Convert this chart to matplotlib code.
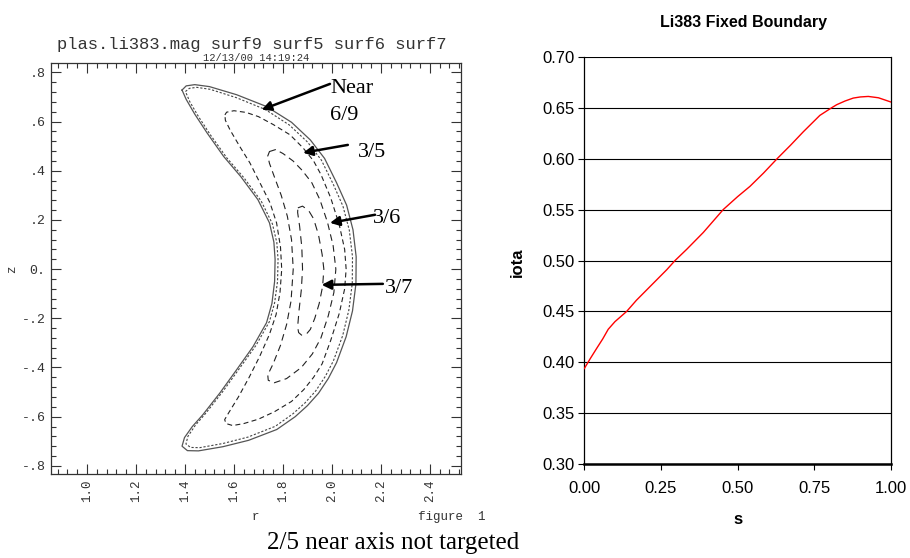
import numpy as np
import matplotlib
matplotlib.use("Agg")
import matplotlib.pyplot as plt
from matplotlib.ticker import MultipleLocator, FixedLocator

# ---------------- flux-surface cross sections (r, z) ----------------
boundary_r = [1.388, 1.405, 1.440, 1.500, 1.611, 1.733, 1.835, 1.912, 1.970, 2.019,
              2.060, 2.086, 2.099, 2.098, 2.084, 2.058, 2.019, 1.985, 1.945, 1.900,
              1.850, 1.775, 1.660, 1.555, 1.455, 1.410, 1.388, 1.398, 1.430, 1.473,
              1.543, 1.611, 1.678, 1.733, 1.755, 1.766, 1.768, 1.763, 1.745, 1.698,
              1.628, 1.558, 1.490, 1.440, 1.405, 1.388]
boundary_z = [0.728, 0.745, 0.750, 0.742, 0.709, 0.661, 0.597, 0.525, 0.450, 0.351,
              0.260, 0.160, 0.050, -0.060, -0.170, -0.275, -0.380, -0.445, -0.505, -0.555,
              -0.600, -0.652, -0.696, -0.722, -0.739, -0.738, -0.720, -0.685, -0.640, -0.592,
              -0.503, -0.409, -0.315, -0.218, -0.140, -0.050, 0.040, 0.110, 0.188, 0.282,
              0.376, 0.458, 0.554, 0.630, 0.690, 0.728]

surf9_r = [1.402, 1.418, 1.448, 1.503, 1.610, 1.728, 1.826, 1.901, 1.957, 2.005,
           2.045, 2.071, 2.084, 2.083, 2.069, 2.044, 2.006, 1.973, 1.934, 1.890,
           1.841, 1.769, 1.657, 1.555, 1.460, 1.423, 1.404, 1.412, 1.443, 1.485,
           1.555, 1.623, 1.690, 1.745, 1.766, 1.778, 1.780, 1.775, 1.757, 1.711,
           1.641, 1.571, 1.503, 1.454, 1.420, 1.402]
surf9_z = [0.722, 0.735, 0.739, 0.731, 0.697, 0.649, 0.586, 0.516, 0.443, 0.346,
           0.256, 0.158, 0.050, -0.059, -0.167, -0.270, -0.373, -0.436, -0.495, -0.544,
           -0.588, -0.639, -0.683, -0.709, -0.726, -0.725, -0.711, -0.680, -0.634, -0.586,
           -0.497, -0.403, -0.310, -0.213, -0.137, -0.049, 0.040, 0.108, 0.184, 0.277,
           0.371, 0.452, 0.547, 0.622, 0.680, 0.722]

surf5_r = [1.563, 1.570, 1.600, 1.650, 1.700, 1.760, 1.829, 1.882, 1.925, 1.955,
           1.995, 2.030, 2.052, 2.058, 2.052, 2.030, 1.995, 1.960, 1.925, 1.885,
           1.835, 1.765, 1.700, 1.640, 1.595, 1.568, 1.562, 1.578, 1.618, 1.662,
           1.705, 1.745, 1.772, 1.788, 1.795, 1.790, 1.774, 1.747, 1.706, 1.665,
           1.624, 1.584, 1.565, 1.563]
surf5_z = [0.627, 0.638, 0.644, 0.637, 0.620, 0.588, 0.546, 0.493, 0.440, 0.385,
           0.290, 0.180, 0.080, 0.000, -0.080, -0.180, -0.290, -0.385, -0.440, -0.490,
           -0.538, -0.580, -0.610, -0.628, -0.636, -0.628, -0.612, -0.585, -0.520, -0.440,
           -0.355, -0.265, -0.185, -0.095, 0.000, 0.090, 0.188, 0.270, 0.351, 0.432,
           0.498, 0.566, 0.605, 0.627]

surf6_r = [1.745, 1.770, 1.800, 1.841, 1.878, 1.918, 1.951, 1.982, 2.005, 2.016,
           2.008, 1.985, 1.955, 1.920, 1.875, 1.815, 1.765, 1.740, 1.738, 1.760,
           1.790, 1.815, 1.833, 1.842, 1.835, 1.818, 1.793, 1.765, 1.745, 1.738, 1.745]
surf6_z = [0.478, 0.486, 0.470, 0.440, 0.402, 0.351, 0.282, 0.190, 0.095, 0.000,
           -0.095, -0.190, -0.280, -0.345, -0.400, -0.445, -0.462, -0.452, -0.430, -0.385,
           -0.310, -0.225, -0.130, 0.000, 0.120, 0.215, 0.300, 0.375, 0.430, 0.460, 0.478]

surf7_r = [1.861, 1.880, 1.905, 1.925, 1.945, 1.960, 1.967, 1.962, 1.948, 1.930,
           1.912, 1.895, 1.878, 1.864, 1.860, 1.866, 1.875, 1.880, 1.877, 1.868,
           1.860, 1.861]
surf7_z = [0.249, 0.256, 0.238, 0.205, 0.140, 0.060, 0.000, -0.070, -0.140, -0.200,
           -0.245, -0.265, -0.270, -0.258, -0.235, -0.165, -0.085, 0.000, 0.090, 0.175,
           0.230, 0.249]

r_ticks = [1.0, 1.2, 1.4, 1.6, 1.8, 2.0, 2.2, 2.4]
r_ticklabels = ["1.0", "1.2", "1.4", "1.6", "1.8", "2.0", "2.2", "2.4"]
z_ticks = [-0.8, -0.6, -0.4, -0.2, 0.0, 0.2, 0.4, 0.6, 0.8]
z_ticklabels = ["-.8", "-.6", "-.4", "-.2", "0.", ".2", ".4", ".6", ".8"]

# ---------------- rotational transform profile ----------------
s_vals = [0.000, 0.020, 0.040, 0.060, 0.078, 0.100, 0.138, 0.170, 0.203, 0.236,
          0.269, 0.296, 0.334, 0.388, 0.453, 0.500, 0.540, 0.584, 0.629, 0.672,
          0.714, 0.768, 0.807, 0.823, 0.850, 0.877, 0.900, 0.926, 0.959, 1.000]
iota_vals = [0.394, 0.404, 0.4136, 0.423, 0.4325, 0.440, 0.450, 0.461, 0.471, 0.481,
             0.491, 0.500, 0.511, 0.5275, 0.550, 0.5627, 0.5727, 0.5857, 0.600, 0.613,
             0.6263, 0.6424, 0.650, 0.6529, 0.6565, 0.6594, 0.6605, 0.661, 0.6597, 0.6555]
s_ticks = [0.0, 0.25, 0.5, 0.75, 1.0]
iota_ticks = [0.30, 0.35, 0.40, 0.45, 0.50, 0.55, 0.60, 0.65, 0.70]

W, H = 910, 558
fig = plt.figure(figsize=(W / 100, H / 100), dpi=100)
fig.patch.set_facecolor("white")

mono = "Liberation Mono"
ink = "#333333"

# ---------------- left: surface plot ----------------
ax = fig.add_axes([51 / W, 1 - 474 / H, 410 / W, 411 / H])
ax.set_xlim(0.853, 2.527)
ax.set_ylim(-0.833, 0.838)

ax.plot(boundary_r, boundary_z, color="#555555", lw=0.9, solid_joinstyle="round")
ax.plot(surf9_r, surf9_z, color="#444444", lw=0.8, linestyle=(0, (2.0, 1.6)))
ax.plot(surf5_r, surf5_z, color="#222222", lw=0.8, linestyle=(0, (4.5, 3.0)))
ax.plot(surf6_r, surf6_z, color="#222222", lw=0.8, linestyle=(0, (6.0, 4.0)))
ax.plot(surf7_r, surf7_z, color="#222222", lw=0.8, linestyle=(0, (7.0, 5.0)))

ax.xaxis.set_major_locator(FixedLocator(r_ticks))
ax.xaxis.set_minor_locator(MultipleLocator(0.04))
ax.yaxis.set_major_locator(FixedLocator(z_ticks))
ax.yaxis.set_minor_locator(MultipleLocator(0.04))
ax.set_xticklabels(r_ticklabels, rotation=90, fontfamily=mono, fontsize=9, color=ink)
ax.set_yticklabels(z_ticklabels, fontfamily=mono, fontsize=9.5, color=ink)
ax.tick_params(which="both", direction="in", top=True, right=True, color=ink, width=0.8)
ax.tick_params(which="major", length=7)
ax.tick_params(which="minor", length=3.5)
ax.tick_params(axis="x", which="major", pad=4)
ax.tick_params(axis="y", which="major", pad=4)
for sp in ax.spines.values():
    sp.set_color(ink)
    sp.set_linewidth(0.9)

fig.text(252 / W, 1 - 44 / H, "plas.li383.mag surf9 surf5 surf6 surf7", family=mono,
         fontsize=12.3, color=ink, ha="center", va="center")
fig.text(256 / W, 1 - 58 / H, "12/13/00 14:19:24", family=mono, fontsize=7.5,
         color=ink, ha="center", va="center")
fig.text(12 / W, 1 - 269 / H, "z", family=mono, fontsize=9, color=ink, rotation=90,
         ha="center", va="center")
fig.text(255 / W, 1 - 517 / H, "r", family=mono, fontsize=9, color=ink,
         ha="center", va="center")
fig.text(418 / W, 1 - 517 / H, "figure  1", family=mono, fontsize=9, color=ink,
         ha="left", va="center")

serif = "Liberation Serif"
arrow_kw = dict(arrowstyle="-|>", lw=1.8, color="black", mutation_scale=14,
                shrinkA=0, shrinkB=0)
ax.annotate("", xy=(1.713, 0.648), xytext=(1.992, 0.753), arrowprops=arrow_kw)
ax.annotate("", xy=(1.882, 0.473), xytext=(2.065, 0.505), arrowprops=arrow_kw)
ax.annotate("", xy=(1.992, 0.188), xytext=(2.176, 0.221), arrowprops=arrow_kw)
ax.annotate("", xy=(1.958, -0.064), xytext=(2.208, -0.060), arrowprops=arrow_kw)
ax.text(1.992, 0.717, "Near", family=serif, fontsize=16, ha="left", va="baseline")
ax.text(1.992, 0.607, "6/9", family=serif, fontsize=16, ha="left", va="baseline")
ax.text(2.106, 0.457, "3/5", family=serif, fontsize=16, ha="left", va="baseline")
ax.text(2.167, 0.188, "3/6", family=serif, fontsize=16, ha="left", va="baseline")
ax.text(2.216, -0.096, "3/7", family=serif, fontsize=16, ha="left", va="baseline")

fig.text(393 / W, 1 - 549 / H, "2/5 near axis not targeted", family=serif, fontsize=18,
         ha="center", va="baseline")

# ---------------- right: iota profile ----------------
sans = "Liberation Sans"
ax2 = fig.add_axes([584.3 / W, 1 - 464.3 / H, 306.7 / W, 407.6 / H])
ax2.set_xlim(0, 1)
ax2.set_ylim(0.30, 0.70)
for y in iota_ticks:
    ax2.axhline(y, color="black", lw=0.8, zorder=1)
ax2.plot(s_vals, iota_vals, color="#ff0000", lw=1.0, zorder=3)
ax2.set_xticks(s_ticks)
ax2.set_yticks(iota_ticks)
ax2.set_xticklabels([f"{v:.2f}" for v in s_ticks], family=sans, fontsize=12)
ax2.set_yticklabels([f"{v:.2f}" for v in iota_ticks], family=sans, fontsize=12)
ax2.tick_params(direction="out", length=4, width=0.8, pad=3)
ax2.tick_params(axis="x", pad=8)
ax2.spines["top"].set_visible(False)
ax2.spines["left"].set_linewidth(0.9)
ax2.spines["right"].set_linewidth(0.9)
ax2.spines["bottom"].set_linewidth(1.8)
fig.text(743 / W, 1 - 22 / H, "Li383 Fixed Boundary", family=sans, fontweight="bold",
         fontsize=11.5, ha="center", va="center")
fig.text(517 / W, 1 - 262 / H, "iota", family=sans, fontweight="bold", fontsize=12,
         rotation=90, ha="center", va="center")
fig.text(738 / W, 1 - 520 / H, "s", family=sans, fontweight="bold", fontsize=12,
         ha="center", va="center")

fig.savefig("out.png", dpi=100, facecolor="white")
